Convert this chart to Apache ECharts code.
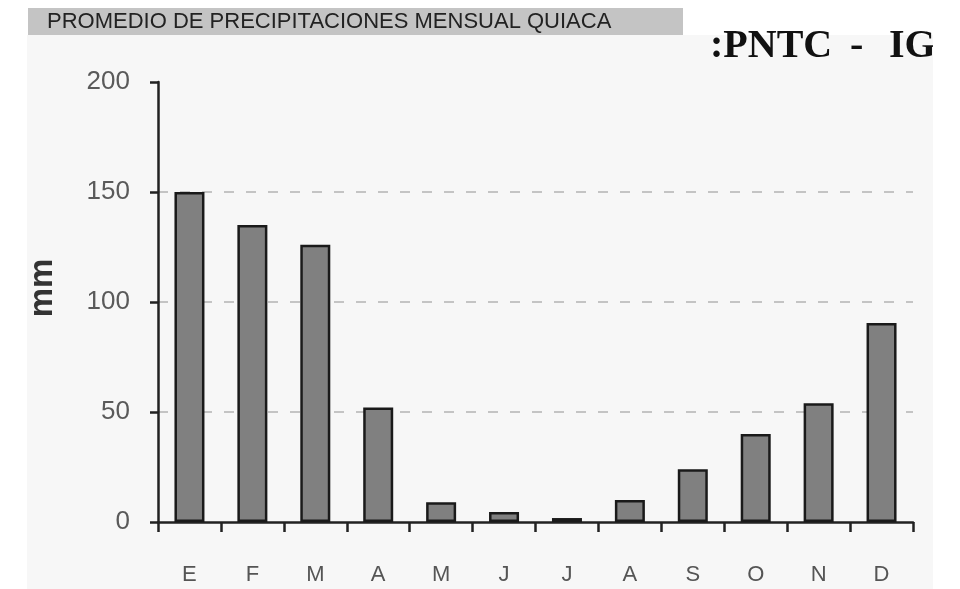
<!DOCTYPE html>
<html>
<head>
<meta charset="utf-8">
<style>
  html, body { margin: 0; padding: 0; background: #fff; }
  #chart { width: 960px; height: 589px; }
</style>
<script src="https://cdn.jsdelivr.net/npm/echarts@6/dist/echarts.min.js"></script>
</head>
<body>
<div id="chart"></div>
<script>
  // monthly mean rainfall, La Quiaca
  const months = ['E', 'F', 'M', 'A', 'M', 'J', 'J', 'A', 'S', 'O', 'N', 'D']
  const rainMm = [150, 135, 126, 52, 9, 4.5, 1.8, 10, 24, 40, 54, 90.5]
  const titleText = 'PROMEDIO DE PRECIPITACIONES MENSUAL QUIACA'
  const sideParts = [':PNTC', '-', 'IG']

  const chart = echarts.init(document.getElementById('chart'))

  const serifFont = 'bold 40px "Liberation Serif", "Times New Roman", serif'
  const sideX = [710, 850, 889]

  chart.setOption({
    animation: false,
    backgroundColor: '#fff',
    graphic: [
      {
        type: 'rect',
        z: -10,
        shape: { x: 27, y: 35, width: 906, height: 554 },
        style: { fill: '#f7f7f7' }
      },
      {
        type: 'rect',
        shape: { x: 28, y: 8, width: 655, height: 27 },
        style: { fill: '#c4c4c4' }
      },
      {
        type: 'text',
        x: 47,
        y: 22,
        style: {
          text: titleText,
          font: '22px "Liberation Sans", Arial, sans-serif',
          fill: '#222',
          verticalAlign: 'middle'
        }
      }
    ].concat(sideParts.map(function (part, i) {
      return {
        type: 'text',
        x: sideX[i],
        y: 47,
        style: {
          text: part,
          font: serifFont,
          fill: '#111',
          verticalAlign: 'middle'
        }
      }
    })).concat([
      {
        type: 'rect',
        z: 100,
        shape: { x: 933, y: 0, width: 27, height: 589 },
        style: { fill: '#fff' }
      }
    ]),
    grid: {
      left: 158,
      right: 47,
      top: 82,
      bottom: 67
    },
    xAxis: {
      type: 'category',
      data: months,
      boundaryGap: true,
      axisLine: { lineStyle: { color: '#222', width: 2.5 } },
      axisTick: { show: true, length: 10, lineStyle: { color: '#222', width: 2.5 } },
      axisLabel: {
        margin: 42,
        color: '#555',
        fontSize: 22,
        fontFamily: '"Liberation Sans", Arial, sans-serif'
      }
    },
    yAxis: {
      type: 'value',
      min: 0,
      max: 200,
      interval: 50,
      name: 'mm',
      nameLocation: 'middle',
      nameGap: 99,
      nameTextStyle: {
        color: '#333',
        fontSize: 33,
        fontWeight: 'bold',
        fontFamily: '"Liberation Sans", Arial, sans-serif',
        padding: [0, 0, 0, 28]
      },
      axisLine: { show: true, lineStyle: { color: '#222', width: 2.5 } },
      axisTick: { show: true, length: 8, lineStyle: { color: '#222', width: 2.5 } },
      axisLabel: {
        margin: 28,
        color: '#5a5a5a',
        fontSize: 26,
        fontFamily: '"Liberation Sans", Arial, sans-serif'
      },
      splitLine: {
        show: true,
        lineStyle: {
          color: ['transparent', '#c4c4c4', '#c4c4c4', '#c4c4c4', 'transparent'],
          width: 2,
          type: [10, 12]
        }
      }
    },
    series: [
      {
        type: 'bar',
        data: rainMm,
        barWidth: 30,
        itemStyle: {
          color: '#808080',
          borderColor: '#1a1a1a',
          borderWidth: 2.5
        }
      }
    ]
  })
</script>
</body>
</html>
